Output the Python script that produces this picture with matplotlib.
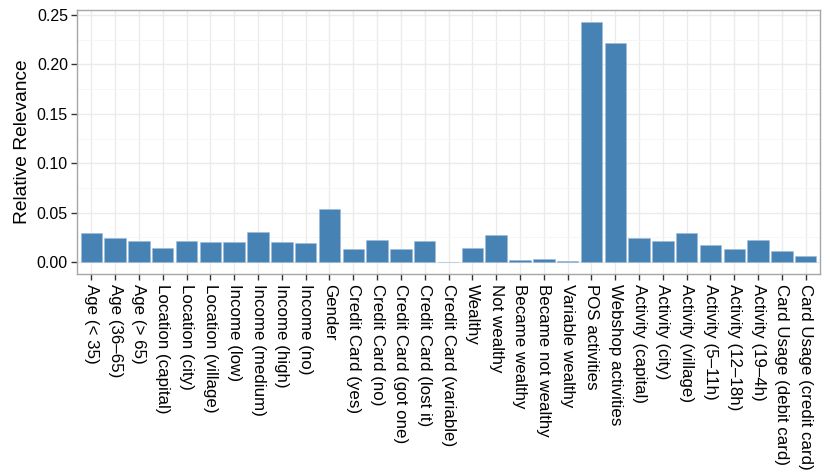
import matplotlib
matplotlib.use("Agg")
import matplotlib.pyplot as plt
from matplotlib.ticker import MultipleLocator, FormatStrFormatter

plt.rcParams['font.family'] = ['Liberation Sans', 'DejaVu Sans']

features = [
    "Age (< 35)", "Age (36\u201365)", "Age (> 65)",
    "Location (capital)", "Location (city)", "Location (village)",
    "Income (low)", "Income (medium)", "Income (high)", "Income (no)",
    "Gender",
    "Credit Card (yes)", "Credit Card (no)", "Credit Card (got one)",
    "Credit Card (lost it)", "Credit Card (variable)",
    "Wealthy", "Not wealthy", "Became wealthy", "Became not wealthy",
    "Variable wealthy",
    "POS activities", "Webshop activities",
    "Activity (capital)", "Activity (city)", "Activity (village)",
    "Activity (5\u201311h)", "Activity (12\u201318h)", "Activity (19\u20134h)",
    "Card Usage (debit card)", "Card Usage (credit card)",
]
relevance = [
    0.0292, 0.0245, 0.0211,
    0.0144, 0.0215, 0.0201,
    0.0198, 0.0305, 0.0201, 0.0188,
    0.0537,
    0.0128, 0.0218, 0.0128,
    0.0213, 0.0003,
    0.0144, 0.0272, 0.0023, 0.0034,
    0.0010,
    0.2430, 0.2215,
    0.0238, 0.0208, 0.0292,
    0.0171, 0.0134, 0.0225,
    0.0114, 0.0064,
]

fig = plt.figure(figsize=(8.3, 4.75), dpi=100)
ax = fig.add_axes([0.0928, 0.4232, 0.8952, 0.5558])

x = list(range(1, len(features) + 1))
ax.bar(x, relevance, width=0.9, color="#4682B4", edgecolor="#9DBBD8",
       linewidth=0.4, zorder=3)

# ggplot-like expansion
ax.set_xlim(0.4, len(features) + 0.6)
top = max(relevance)
ax.set_ylim(-0.05 * top, 1.05 * top)

ax.set_xticks(x)
ax.set_xticklabels(features, rotation=-90, ha="center", va="top", fontsize=12.2)
ax.yaxis.set_major_locator(MultipleLocator(0.05))
ax.yaxis.set_minor_locator(MultipleLocator(0.025))
ax.yaxis.set_major_formatter(FormatStrFormatter("%.2f"))
ax.tick_params(axis="y", labelsize=11.5, length=4.5, width=1, color="#333333", pad=2)
ax.tick_params(axis="y", which="minor", length=0)
ax.tick_params(axis="x", length=4.5, width=1, color="#333333", pad=3)

ax.grid(True, which="major", color="#EBEBEB", linewidth=1.0, zorder=0)
ax.grid(True, which="minor", axis="y", color="#F5F5F5", linewidth=0.6, zorder=0)
ax.set_axisbelow(True)

for s in ax.spines.values():
    s.set_color("#A6A6A6")
    s.set_linewidth(1.0)

ax.set_ylabel("Relative Relevance", fontsize=13.8, labelpad=4)

fig.savefig("out.png", dpi=100)
